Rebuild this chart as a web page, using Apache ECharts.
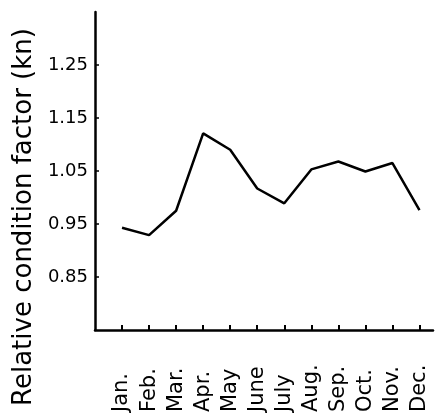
<!DOCTYPE html>
<html>
<head>
<meta charset="utf-8">
<script src="https://cdn.jsdelivr.net/npm/echarts@6/dist/echarts.min.js"></script>
<style>html,body{margin:0;padding:0;background:#fff;}#c{width:436px;height:416px;}</style>
</head>
<body>
<div id="c"></div>
<script>
const months = ['Jan.', 'Feb.', 'Mar.', 'Apr.', 'May', 'June', 'July', 'Aug.', 'Sep.', 'Oct.', 'Nov.', 'Dec.'];
const monthPos = [1, 2, 3, 4, 5, 6, 7, 8, 9, 10, 11, 12];
const kn = [0.943, 0.929, 0.975, 1.121, 1.090, 1.017, 0.989, 1.053, 1.068, 1.049, 1.065, 0.976];
const yTicks = [0.85, 0.95, 1.05, 1.15, 1.25];
const yTitle = 'Relative condition factor (kn)';

const chart = echarts.init(document.getElementById('c'));
chart.setOption({
  animation: false,
  backgroundColor: '#fff',
  grid: { left: 95, top: 12, right: 3, bottom: 86 },
  xAxis: {
    type: 'value', min: 0, max: 12.5,
    splitLine: { show: false },
    axisLine: { lineStyle: { color: '#000', width: 2.5 } },
    axisTick: { show: true, inside: true, length: 5, customValues: monthPos, lineStyle: { color: '#000', width: 2 } },
    axisLabel: {
      customValues: monthPos, rotate: 90, align: 'left', verticalAlign: 'middle', margin: 82,
      color: '#000', fontSize: 21, fontFamily: 'DejaVu Sans',
      formatter: v => months[Math.round(v) - 1] || ''
    }
  },
  yAxis: {
    type: 'value', min: 0.75, max: 1.35,
    splitLine: { show: false },
    axisLine: { show: true, lineStyle: { color: '#000', width: 2.5 } },
    axisTick: { show: true, inside: true, length: 4, customValues: yTicks, lineStyle: { color: '#000', width: 1.5 } },
    axisLabel: {
      customValues: yTicks, margin: 7, color: '#000', fontSize: 18, fontFamily: 'DejaVu Sans',
      formatter: v => v.toFixed(2)
    }
  },
  graphic: [{
    type: 'text', x: 24, y: 217, rotation: Math.PI / 2,
    style: { text: yTitle, fill: '#000', fontSize: 26, fontFamily: 'DejaVu Sans', align: 'center', verticalAlign: 'middle' }
  }],
  series: [{
    type: 'line',
    data: monthPos.map((m, i) => [m, kn[i]]),
    showSymbol: false,
    lineStyle: { color: '#000', width: 2.5 }
  }]
});
</script>
</body>
</html>
